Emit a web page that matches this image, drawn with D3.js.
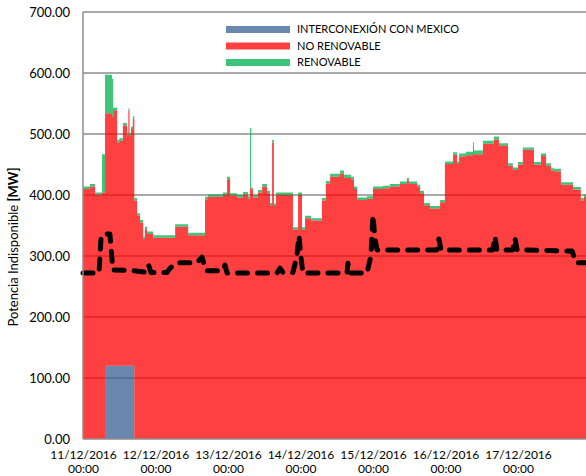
<!DOCTYPE html>
<html>
<head>
<meta charset="utf-8">
<script src="https://cdn.jsdelivr.net/npm/d3@7"></script>
<style>
  body { margin: 0; background: #fff; }
  svg { font-family: Lato, "Open Sans", sans-serif; }
</style>
</head>
<body>
<div id="chart"></div>
<script>
// hours since 11/12/2016 00:00 (step breakpoints)
const hours = [0, 2.3, 4, 6.3, 7.3, 9.6, 10, 11.3, 12, 13.2, 14.6, 15, 15.4, 15.9, 16.5, 17, 17.9, 18.9, 19.9, 20.5,
  21.2, 23.2, 30.5, 34.8, 40.4, 41.4, 46.3, 47.7, 48.7, 51, 53, 54.6, 55.3, 55.7, 56.3, 57.9, 59.3, 60.9, 61.9, 62.6,
  63.2, 63.9, 69.5, 71.2, 72.5, 73.5, 75.5, 79.1, 80.4, 81.8, 85.1, 86.4, 88.7, 89.7, 90.7, 94, 96, 99.3, 101.6, 104.9,
  107.2, 107.9, 110.6, 111.6, 112.9, 114.9, 118.2, 119.8, 122.5, 123.8, 124.5, 126.8, 129.1, 129.4, 132.4, 136, 137.7, 140.7, 142.3, 144,
  145.6, 149.3, 151.6, 153.3, 154.9, 156, 158.2, 162.2, 164.8, 165.8, 168];

const interconexion = [0, 0, 0, 0, 120, 120, 120, 120, 120, 120, 120, 120, 120, 120, 120, 0, 0, 0, 0, 0,
  0, 0, 0, 0, 0, 0, 0, 0, 0, 0, 0, 0, 0, 0, 0, 0, 0, 0, 0, 0,
  0, 0, 0, 0, 0, 0, 0, 0, 0, 0, 0, 0, 0, 0, 0, 0, 0, 0, 0, 0,
  0, 0, 0, 0, 0, 0, 0, 0, 0, 0, 0, 0, 0, 0, 0, 0, 0, 0, 0, 0,
  0, 0, 0, 0, 0, 0, 0, 0, 0, 0, 0];

const noRenovable = [410, 414, 401, 404, 414, 408, 419, 366, 369, 394, 378, 418, 378, 388, 405, 391, 366, 355, 328, 344,
  336, 330, 348, 334, 393, 397, 400, 426, 399, 396, 401, 394, 412, 408, 396, 404, 414, 403, 383, 486,
  382, 400, 343, 400, 343, 362, 358, 391, 419, 430, 435, 428, 426, 410, 392, 394, 410, 411, 414, 418,
  424, 418, 413, 403, 383, 378, 388, 451, 466, 451, 463, 465, 481, 467, 484, 491, 481, 448, 441, 450,
  474, 450, 464, 448, 440, 439, 417, 409, 391, 397, 397];

const renovable = [4, 4, 3, 63, 63, 62, 4, 4, 4, 4, 4, 4, 4, 4, 4, 4, 4, 4, 4, 4,
  4, 4, 4, 4, 4, 4, 4, 4, 4, 4, 4, 4, 98, 4, 4, 4, 4, 4, 4, 4,
  4, 4, 4, 4, 4, 4, 4, 4, 4, 5, 5, 5, 4, 4, 4, 4, 4, 4, 4, 4,
  4, 4, 4, 4, 4, 4, 4, 4, 4, 4, 5, 6, 6, 6, 5, 5, 4, 4, 4, 4,
  4, 4, 4, 4, 4, 4, 4, 4, 4, 4, 4];

// dashed black series
const lineHours = [0, 5.3, 6, 6.6, 8.9, 9.9, 16.6, 21.2, 21.8, 22.5, 27.8, 28.8, 31.1, 37.7, 39.4, 40.7, 46.3, 47, 47.7, 64.2,
  65.2, 66.2, 69.5, 70.8, 71.5, 72.1, 72.8, 87.4, 87.7, 88.4, 94, 95.3, 96, 96.6, 97.3, 117.2, 117.8, 118.5, 135.7, 136.4,
  137, 142.3, 143, 143.7, 161.9, 163.2, 166.5, 168];
const lineValues = [272, 272, 332, 336, 336, 277, 276, 273, 284, 273, 273, 280, 289, 289, 298, 276, 276, 285, 272, 272,
  280, 273, 273, 300, 333, 300, 272, 272, 288, 272, 272, 300, 367, 330, 310, 310, 328, 310, 310, 332,
  310, 310, 329, 310, 308, 289, 289, 289];

const yTicks = [0, 100, 200, 300, 400, 500, 600, 700];
const dayTicks = [0, 24, 48, 72, 96, 120, 144];
const dayLabels = ["11/12/2016", "12/12/2016", "13/12/2016", "14/12/2016", "15/12/2016", "16/12/2016", "17/12/2016"];

const seriesKeys = ["interconexion", "noRenovable", "renovable"];
const legendNames = ["INTERCONEXIÓN CON MEXICO", "NO RENOVABLE", "RENOVABLE"];
// drawn at 0.75 opacity so the grid shows through a little
const seriesColors = { interconexion: "#385f91", noRenovable: "#ff0000", renovable: "#00b04d" };
const legendColors = ["#6a87ad", "#ff4040", "#3ec47a"];

const W = 586, H = 476;
const margin = { top: 12, left: 83 };
const plotW = 7 * 72.5, plotH = 427;

const rows = hours.map((h, i) => ({
  h: h,
  interconexion: interconexion[i],
  noRenovable: noRenovable[i],
  renovable: renovable[i]
}));

const svg = d3.select("#chart").append("svg")
  .attr("width", W).attr("height", H);
const g = svg.append("g").attr("transform", `translate(${margin.left},${margin.top})`);

const x = d3.scaleLinear().domain([0, 168]).range([0, plotW]);
const y = d3.scaleLinear().domain([0, 700]).range([plotH, 0]);

// grid lines (behind the areas)
g.append("g").selectAll("line").data(yTicks.slice(1)).join("line")
  .attr("x1", 0).attr("x2", plotW)
  .attr("y1", d => y(d)).attr("y2", d => y(d))
  .attr("stroke", "#8c8c8c").attr("stroke-width", 1.3);

// stacked areas
const stack = d3.stack().keys(seriesKeys);
const area = d3.area()
  .curve(d3.curveStepAfter)
  .x(d => x(d.data.h))
  .y0(d => y(d[0]))
  .y1(d => y(d[1]));

g.append("g").selectAll("path").data(stack(rows)).join("path")
  .attr("d", area)
  .attr("fill", d => seriesColors[d.key])
  .attr("fill-opacity", 0.75);

// dashed series
const line = d3.line()
  .x((d, i) => x(lineHours[i]))
  .y(d => y(d));
g.append("path")
  .datum(lineValues)
  .attr("d", line)
  .attr("fill", "none")
  .attr("stroke", "#000")
  .attr("stroke-width", 5)
  .attr("stroke-dasharray", "10,10")
  .attr("stroke-linecap", "round")
  .attr("stroke-linejoin", "round");

// axis lines
g.append("line").attr("x1", 0).attr("x2", 0).attr("y1", 0).attr("y2", plotH)
  .attr("stroke", "#8c8c8c").attr("stroke-width", 1.5);
g.append("line").attr("x1", 0).attr("x2", plotW).attr("y1", plotH).attr("y2", plotH)
  .attr("stroke", "#8c8c8c").attr("stroke-width", 1.5);

// y axis labels
const yAxis = g.append("g")
  .call(d3.axisLeft(y).tickValues(yTicks).tickFormat(d3.format(".2f")).tickSize(0).tickPadding(13));
yAxis.select(".domain").remove();
yAxis.selectAll("text").attr("font-size", 13).attr("fill", "#000")
  .attr("font-family", "Lato, 'Open Sans', sans-serif");

// x axis labels (two lines)
const xAxis = g.append("g").attr("transform", `translate(0,${plotH})`)
  .call(d3.axisBottom(x).tickValues(dayTicks).tickSize(0).tickFormat(""));
xAxis.select(".domain").remove();
xAxis.selectAll(".tick").each(function (d, i) {
  const t = d3.select(this).append("text")
    .attr("fill", "#000").attr("font-size", 12)
    .attr("font-family", "Lato, 'Open Sans', sans-serif")
    .attr("text-anchor", "middle");
  t.append("tspan").attr("x", 0).attr("y", 20).text(dayLabels[i]);
  t.append("tspan").attr("x", 0).attr("y", 34).text("00:00");
});

// y title
const yTitle = svg.append("text")
  .attr("transform", "translate(18,247) rotate(-90)")
  .attr("text-anchor", "middle")
  .attr("font-size", 13)
  .attr("fill", "#000");
yTitle.append("tspan").text("Potencia Indisponible ");
yTitle.append("tspan").attr("font-weight", "bold").text("[MW]");

// legend
const legend = svg.append("g").attr("transform", "translate(226,26)");
const item = legend.selectAll("g").data(legendNames).join("g")
  .attr("transform", (d, i) => `translate(0,${[0, 16.5, 33][i]})`);
item.append("rect")
  .attr("width", 64).attr("height", 7)
  .attr("fill", (d, i) => legendColors[i]);
item.append("text")
  .attr("x", 71).attr("y", 3.5)
  .attr("dy", "0.35em")
  .attr("font-size", 11)
  .attr("fill", "#000")
  .text(d => d);
</script>
</body>
</html>
